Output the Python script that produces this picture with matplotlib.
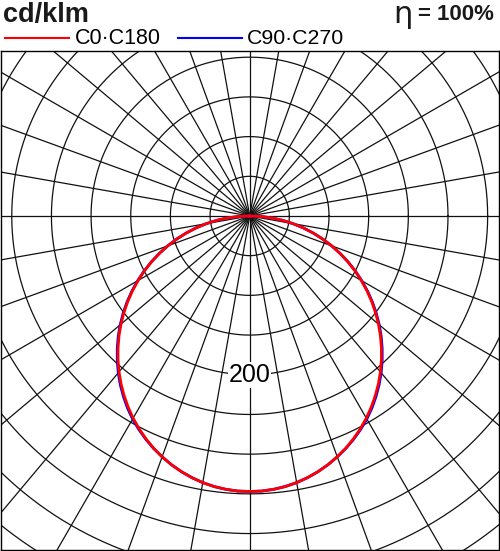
import numpy as np
import matplotlib.pyplot as plt

# luminous intensity distribution, cd/klm, gamma = 0 is straight down
gamma = [0, 2.5, 5, 7.5, 10, 12.5, 15, 17.5, 20, 22.5, 25, 27.5, 30, 32.5, 35, 37.5,
         40, 42.5, 45, 47.5, 50, 52.5, 55, 57.5, 60, 62.5, 65, 67.5, 70, 72.5, 75,
         77.5, 80, 82.5, 85, 87.5, 90]
c0_c180 = [347, 346.8, 345.6, 343.7, 341, 337.5, 333.3, 328.4, 322.8, 316.6, 309.6,
           302.1, 294, 285.3, 276.1, 266.5, 256.3, 245.8, 234.8, 223.5, 211.9, 199.9,
           187.7, 175.2, 162.5, 149.6, 136.5, 123.3, 109.9, 96.4, 82.8, 69.2, 55.4,
           41.6, 27.8, 13.9, 0]
c90_c270 = [347, 346.8, 345.6, 343.7, 341, 337.5, 333.3, 328.4, 322.8, 316.8, 310.2,
            303, 295.3, 286.8, 277.6, 268, 257.8, 247.2, 236.2, 224.9, 213.2, 201.1,
            188.8, 176.1, 163.2, 150.1, 136.9, 123.5, 110, 96.4, 82.8, 69.2, 55.4,
            41.6, 27.8, 13.9, 0]

ring_step = 50
ring_count = 11
spoke_step = 10
ring_label = 200

plt.rcParams['font.family'] = ['Liberation Sans', 'DejaVu Sans']
plt.rcParams['mathtext.fontset'] = 'dejavusans'

fig = plt.figure(figsize=(5, 5.51), dpi=100)
ax = fig.add_axes([0.001, 1.0 / 551, 0.997, 499.0 / 551])
ax.set_xlim(-314.2, 314.3)
ax.set_ylim(-420.7, 207.8)
ax.set_xticks([])
ax.set_yticks([])
for sp in ax.spines.values():
    sp.set_linewidth(1.0)
    sp.set_color('black')

# grid: rings and spokes
t = np.linspace(0, 2 * np.pi, 721)
for k in range(1, ring_count + 1):
    r = k * ring_step
    ax.plot(r * np.cos(t), r * np.sin(t), color='#111111', lw=0.9, zorder=1)
for a in range(0, 180, spoke_step):
    ar = np.deg2rad(a)
    L = 1000
    ax.plot([-L * np.cos(ar), L * np.cos(ar)], [-L * np.sin(ar), L * np.sin(ar)],
            color='#111111', lw=0.9, zorder=1)

ax.text(0, -ring_label, str(ring_label), ha='center', va='center', fontsize=18,
        zorder=2, bbox=dict(facecolor='white', edgecolor='none', pad=0.5))


def curve(vals):
    g = np.deg2rad(np.array(gamma, dtype=float))
    v = np.array(vals, dtype=float)
    # right half (C0 / C90) then left half (C180 / C270)
    gg = np.concatenate([g[::-1], -g[1:]])
    vv = np.concatenate([v[::-1], v[1:]])
    return vv * np.sin(gg), -vv * np.cos(gg)


x, y = curve(c90_c270)
ax.plot(x, y, color='#0000ff', lw=2.0, zorder=3, solid_joinstyle='round')
x, y = curve(c0_c180)
ax.plot(x, y, color='#ff0000', lw=2.0, zorder=4, solid_joinstyle='round')

# header
fig.text(3 / 500, 1 - 15 / 551, 'cd/klm', fontsize=19.5, fontweight='bold',
         ha='left', va='center', color='#1a1a1a')
fig.text(393 / 500, 1 - 16 / 551, r'$\mathrm{\eta}$', fontsize=22, ha='left',
         va='center', color='#1a1a1a')
fig.text(418 / 500, 1 - 15 / 551, '= 100%', fontsize=16, fontweight='bold',
         ha='left', va='center', color='#1a1a1a')

fig.add_artist(plt.Line2D([5 / 500, 69 / 500], [1 - 38 / 551, 1 - 38 / 551],
                          color='#ff0000', lw=1.5))
fig.text(75 / 500, 1 - 38 / 551, 'C0·C180', fontsize=15.5, ha='left', va='center')
fig.add_artist(plt.Line2D([178 / 500, 242 / 500], [1 - 38 / 551, 1 - 38 / 551],
                          color='#0000ff', lw=1.5))
fig.text(247 / 500, 1 - 38 / 551, 'C90·C270', fontsize=15.3, ha='left', va='center')

fig.savefig('out.png', dpi=100)
